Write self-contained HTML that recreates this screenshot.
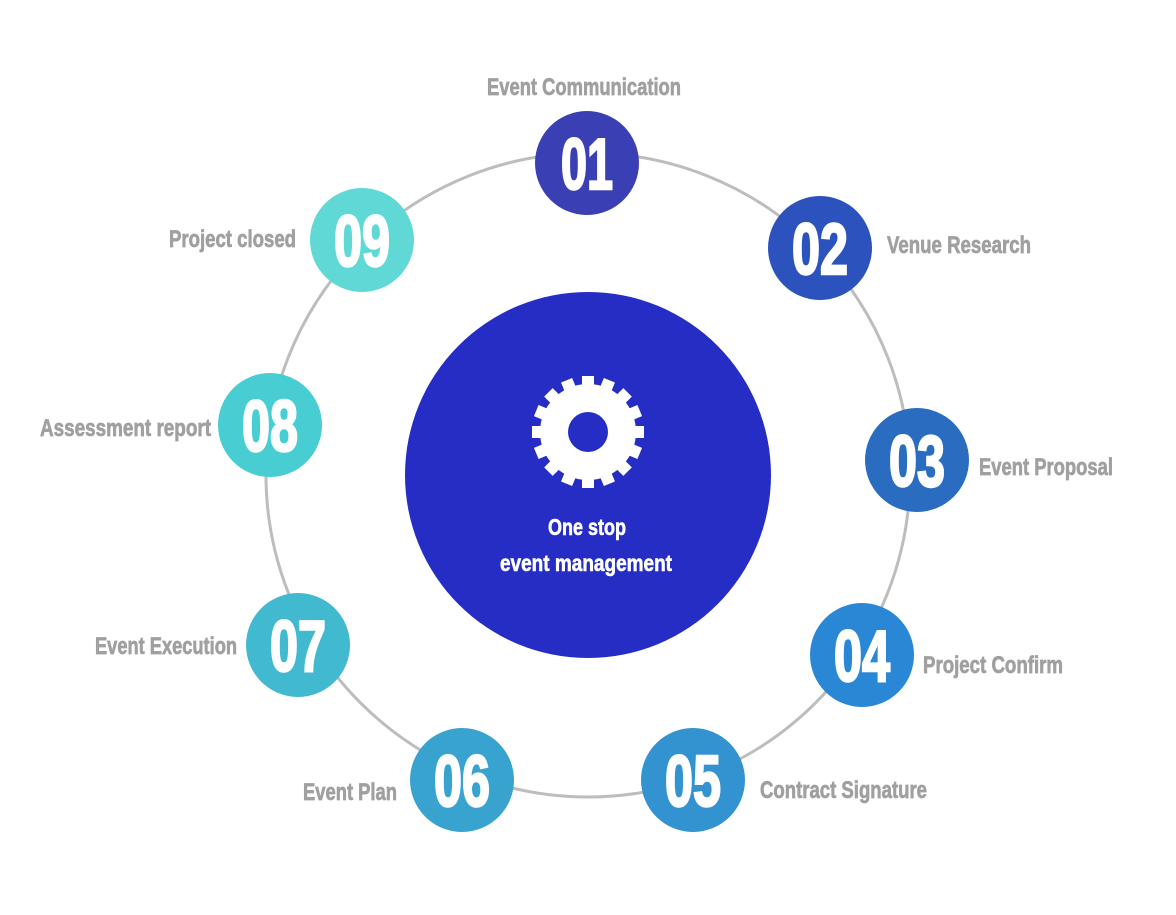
<!DOCTYPE html>
<html><head><style>html,body{margin:0;padding:0;background:#fff}svg{display:block}</style></head>
<body>
<svg width="1176" height="915" viewBox="0 0 1176 915" xmlns="http://www.w3.org/2000/svg" font-family="'Liberation Sans Narrow','Liberation Sans',sans-serif" font-weight="bold">
<circle cx="588" cy="475" r="322" fill="none" stroke="#bdbdbd" stroke-width="3"/>
<circle cx="588" cy="475" r="183" fill="#252dc4"/>
<g transform="translate(588,432)" fill="#fff">
<circle r="48"/>
<g id="t"><rect x="-6" y="-56" width="12" height="14"/></g>
<use href="#t" transform="rotate(22.5)"/><use href="#t" transform="rotate(45)"/><use href="#t" transform="rotate(67.5)"/>
<use href="#t" transform="rotate(90)"/><use href="#t" transform="rotate(112.5)"/><use href="#t" transform="rotate(135)"/>
<use href="#t" transform="rotate(157.5)"/><use href="#t" transform="rotate(180)"/><use href="#t" transform="rotate(202.5)"/>
<use href="#t" transform="rotate(225)"/><use href="#t" transform="rotate(247.5)"/><use href="#t" transform="rotate(270)"/>
<use href="#t" transform="rotate(292.5)"/><use href="#t" transform="rotate(315)"/><use href="#t" transform="rotate(337.5)"/>
<circle r="20" fill="#252dc4"/>
</g>
<g fill="#fff" stroke="#fff" stroke-width="0.6" font-size="23" text-anchor="middle">
<text x="587" y="535" textLength="78" lengthAdjust="spacingAndGlyphs">One stop</text>
<text x="586" y="571" textLength="172" lengthAdjust="spacingAndGlyphs">event management</text>
</g>
<g font-size="72" fill="#fff" text-anchor="middle">
<circle cx="587" cy="163" r="52" fill="#3a3fb3"/>
<circle cx="820" cy="248" r="52" fill="#2b52bd"/>
<circle cx="917" cy="460" r="52" fill="#2a6cbf"/>
<circle cx="862" cy="655" r="52" fill="#2a87d5"/>
<circle cx="693" cy="780" r="52" fill="#3393d0"/>
<circle cx="462" cy="780" r="52" fill="#39a3cf"/>
<circle cx="298" cy="645" r="52" fill="#41b9cf"/>
<circle cx="270" cy="425" r="52" fill="#48ced2"/>
<circle cx="362" cy="240" r="52" fill="#60d9d6"/>
<g stroke="#fff" stroke-width="2.5">
<text x="587" y="189" textLength="52" lengthAdjust="spacingAndGlyphs">01</text>
<text x="820" y="274" textLength="56" lengthAdjust="spacingAndGlyphs">02</text>
<text x="917" y="486" textLength="56" lengthAdjust="spacingAndGlyphs">03</text>
<text x="862" y="681" textLength="56" lengthAdjust="spacingAndGlyphs">04</text>
<text x="693" y="806" textLength="56" lengthAdjust="spacingAndGlyphs">05</text>
<text x="462" y="806" textLength="56" lengthAdjust="spacingAndGlyphs">06</text>
<text x="298" y="671" textLength="56" lengthAdjust="spacingAndGlyphs">07</text>
<text x="270" y="451" textLength="56" lengthAdjust="spacingAndGlyphs">08</text>
<text x="362" y="266" textLength="56" lengthAdjust="spacingAndGlyphs">09</text>
</g>
</g>
<g font-size="24" fill="#a0a0a0" stroke="#a0a0a0" stroke-width="0.7">
<text x="487" y="95" textLength="194" lengthAdjust="spacingAndGlyphs">Event Communication</text>
<text x="887" y="253" textLength="144" lengthAdjust="spacingAndGlyphs">Venue Research</text>
<text x="979" y="475" textLength="134" lengthAdjust="spacingAndGlyphs">Event Proposal</text>
<text x="923" y="673" textLength="140" lengthAdjust="spacingAndGlyphs">Project Confirm</text>
<text x="760" y="798" textLength="167" lengthAdjust="spacingAndGlyphs">Contract Signature</text>
<text x="303" y="800" textLength="94" lengthAdjust="spacingAndGlyphs">Event Plan</text>
<text x="95" y="654" textLength="142" lengthAdjust="spacingAndGlyphs">Event Execution</text>
<text x="40" y="436" textLength="171" lengthAdjust="spacingAndGlyphs">Assessment report</text>
<text x="169" y="247" textLength="127" lengthAdjust="spacingAndGlyphs">Project closed</text>
</g>
</svg>
</body></html>
